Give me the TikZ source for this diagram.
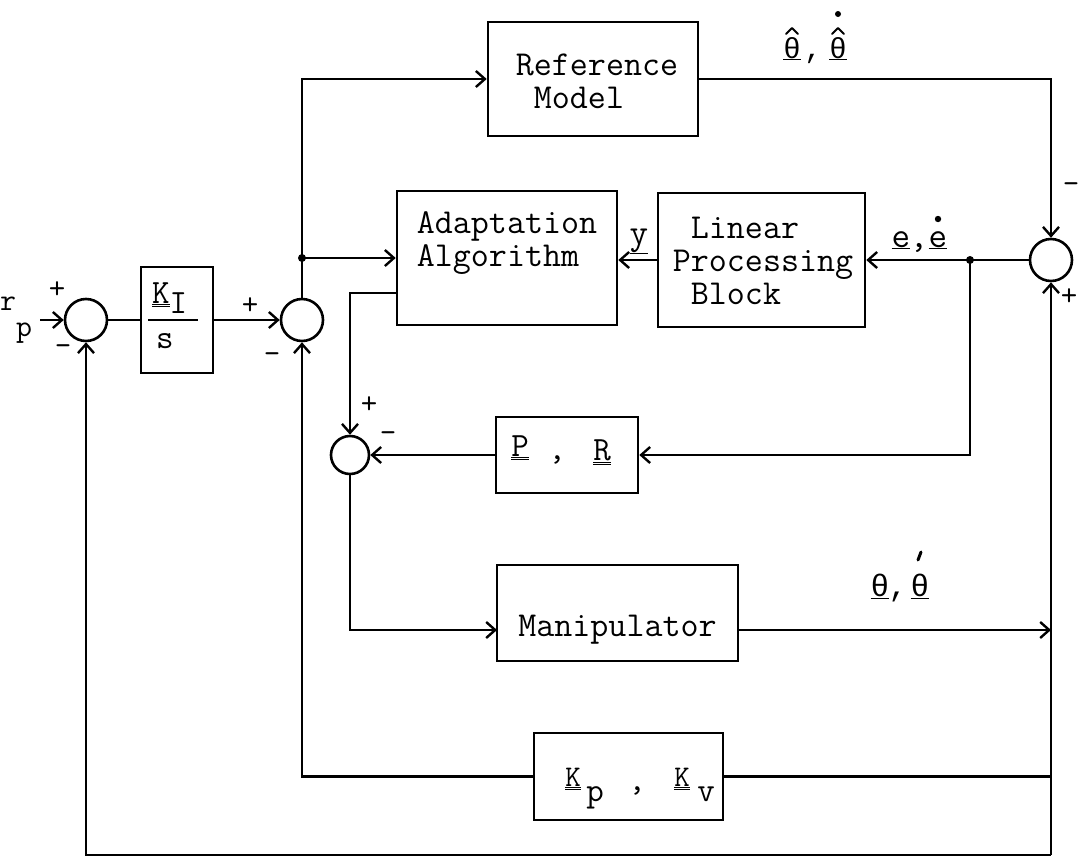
\documentclass[tikz,border=0pt]{standalone}
\usepackage{fontspec}
\newfontfamily\tw{Latin Modern Mono}
\newfontfamily\gm{Liberation Mono}
\usetikzlibrary{arrows.meta,calc}
\newcommand\dul[1]{\underline{\underline{#1}}}
\begin{document}
\begin{tikzpicture}[x=1pt,y=-1pt,
  every node/.style={inner sep=0pt},
  blk/.style={draw, line width=2.6pt},
  txt/.style={font=\fontsize{35}{33}\selectfont\tw, align=left},
  sym/.style={font=\fontsize{34}{34}\selectfont\tw},
  thf/.style={font=\fontsize{29}{30}\selectfont\gm},
  sgn/.style={font=\fontsize{32}{32}\selectfont\tw},
  acc/.style={line width=2pt, line cap=round, line join=round},
  sum/.style={draw, circle, line width=2.6pt, minimum size=42pt},
  wire/.style={line width=2.4pt},
  arr/.style={wire, -{Straight Barb[length=9pt,width=16pt,line width=2.4pt]}},
  jdot/.style={circle, fill, minimum size=8pt}
]
\fill[white] (0,0) rectangle (1079,865);
\useasboundingbox (0,0) rectangle (1079,865);

% blocks
\node[blk, minimum width=210pt, minimum height=114pt] (ref) at (593,79) {};
\node[txt] (refT) at (597,81) {Reference\\\phantom{x}Model};
\node[blk, minimum width=220pt, minimum height=134pt] (adapt) at (507,258) {};
\node[txt] (adaptT) at (507,243) {Adaptation\\Algorithm};
\node[blk, minimum width=207pt, minimum height=134pt] (lin) at (761.5,260) {};
\node[txt] (linT) at (763,261) {\phantom{x}Linear\\Processing\\\phantom{x}Block};
\node[blk, minimum width=72pt, minimum height=106pt] (ki) at (177,320) {};
\node[sym, anchor=base west] (kiN) at (152,303) {\dul{K}\raisebox{-0.3em}{I}};
\node[sym, anchor=base] (kiD) at (165,348) {s};
\draw[wire] (148,320) -- (198,320);
\node[blk, minimum width=142pt, minimum height=76pt] (pr) at (567,455) {};
\node[sym, anchor=base] (prP) at (520,456) {\dul{P}};
\node[sym, anchor=base] (prC) at (557,459) {,};
\node[sym, anchor=base] (prR) at (602,460) {\dul{R}};
\node[blk, minimum width=241pt, minimum height=96pt] (man) at (617.5,613) {};
\node[txt] (manT) at (617.5,630) {Manipulator};
\node[blk, minimum width=189pt, minimum height=87pt] (kp) at (628.5,776.5) {};
\node[sym, anchor=base] (kpK1) at (573,786) {\fontsize{30}{30}\selectfont\dul{K}};
\node[sym, anchor=base] (kpP) at (595,801) {p};
\node[sym, anchor=base] (kpC) at (637,790) {,};
\node[sym, anchor=base] (kpK2) at (682,786) {\fontsize{30}{30}\selectfont\dul{K}};
\node[sym, anchor=base] (kpV) at (706,801) {v};

% summing junctions
\node[sum] (s1) at (86,320) {};
\node[sum] (s2) at (302,320) {};
\node[sum, minimum size=38pt] (s3) at (350,455) {};
\node[sum] (s4) at (1051,260) {};

% branch points
\coordinate (rp) at (40,320);
\node[jdot] (j1) at (302,258) {};
\node[jdot] (j2) at (970,260) {};
\coordinate (a1) at (397,293);
\coordinate (mi) at (497,630);
\coordinate (mo) at (738,630);
\coordinate (m1) at (1051,630);
\coordinate (k1) at (1051,776.5);
\coordinate (b1) at (1051,855);

% connectors
\draw[arr] (rp) -- (s1.west);
\draw[wire] (s1.east) -- (ki.west);
\draw[arr] (ki.east) -- (s2.west);
\draw[wire] (s2.north) -- (j1.center);
\draw[arr] (j1.center) |- (ref.west);
\draw[arr] (j1.center) -- (adapt.west);
\draw[arr] (ref.east) -| (s4.north);
\draw[wire] (s4.west) -- (j2.center);
\draw[arr] (j2.center) -- (lin.east);
\draw[arr] (lin.west) -- (lin.west -| adapt.east);
\draw[arr] (a1) -| (s3.north);
\draw[arr] (j2.center) |- (pr.east);
\draw[arr] (pr.west) -- (s3.east);
\draw[arr] (s3.south) |- (mi);
\draw[arr] (mo) -- (m1);
\draw[arr] (b1) -- (s4.south);
\draw[wire] (k1) -- (kp.east);
\draw[arr] (kp.west) -| (s2.south);
\draw[arr] (b1) -| (s1.south);

% signal labels
\node[sym, anchor=base west] (rpl) at (0,310) {\fontsize{31}{31}\selectfont r\raisebox{-26pt}{p}};
% theta-hat, theta-hat-dot
\node[thf, anchor=base] (thA) at (792,58) {\underline{θ}};
\node[thf, anchor=base] (thC) at (813,58) {,};
\node[thf, anchor=base] (thB) at (838,58) {\underline{θ}};
\draw[acc] (786,34) -- (792,28) -- (798,34);
\draw[acc] (832,34) -- (838,28) -- (844,34);
\fill (838,14) circle (3);
% y
\node[sym, anchor=base] (ylab) at (639,244) {\fontsize{36}{36}\selectfont\underline{y}};
% e, e-dot
\node[sym, anchor=base] (eA) at (901,247) {\fontsize{36}{36}\selectfont\underline{e}};
\node[sym, anchor=base] (eC) at (919,247) {\fontsize{36}{36}\selectfont ,};
\node[sym, anchor=base] (eB) at (938,247) {\fontsize{36}{36}\selectfont\underline{e}};
\fill (938,219) circle (3.2);
% theta, theta-dot
\node[thf, anchor=base] (tA) at (880,596) {\fontsize{31}{31}\selectfont\underline{θ}};
\node[thf, anchor=base] (tC) at (898,596) {\fontsize{31}{31}\selectfont ,};
\node[thf, anchor=base] (tB) at (920,596) {\fontsize{31}{31}\selectfont\underline{θ}};
\draw[acc, line width=3pt] (918,560) -- (921,552);

% signs
\node[sgn] (p1) at (57,290) {+};
\node[sgn] (n1) at (63,350) {–};
\node[sgn] (p2) at (250,306) {+};
\node[sgn] (n2) at (272,358) {–};
\node[sgn] (p3) at (369,405) {+};
\node[sgn] (n3) at (388,437) {–};
\node[sgn] (n4) at (1071,188) {–};
\node[sgn] (p4) at (1069,297) {+};
\end{tikzpicture}
\end{document}
